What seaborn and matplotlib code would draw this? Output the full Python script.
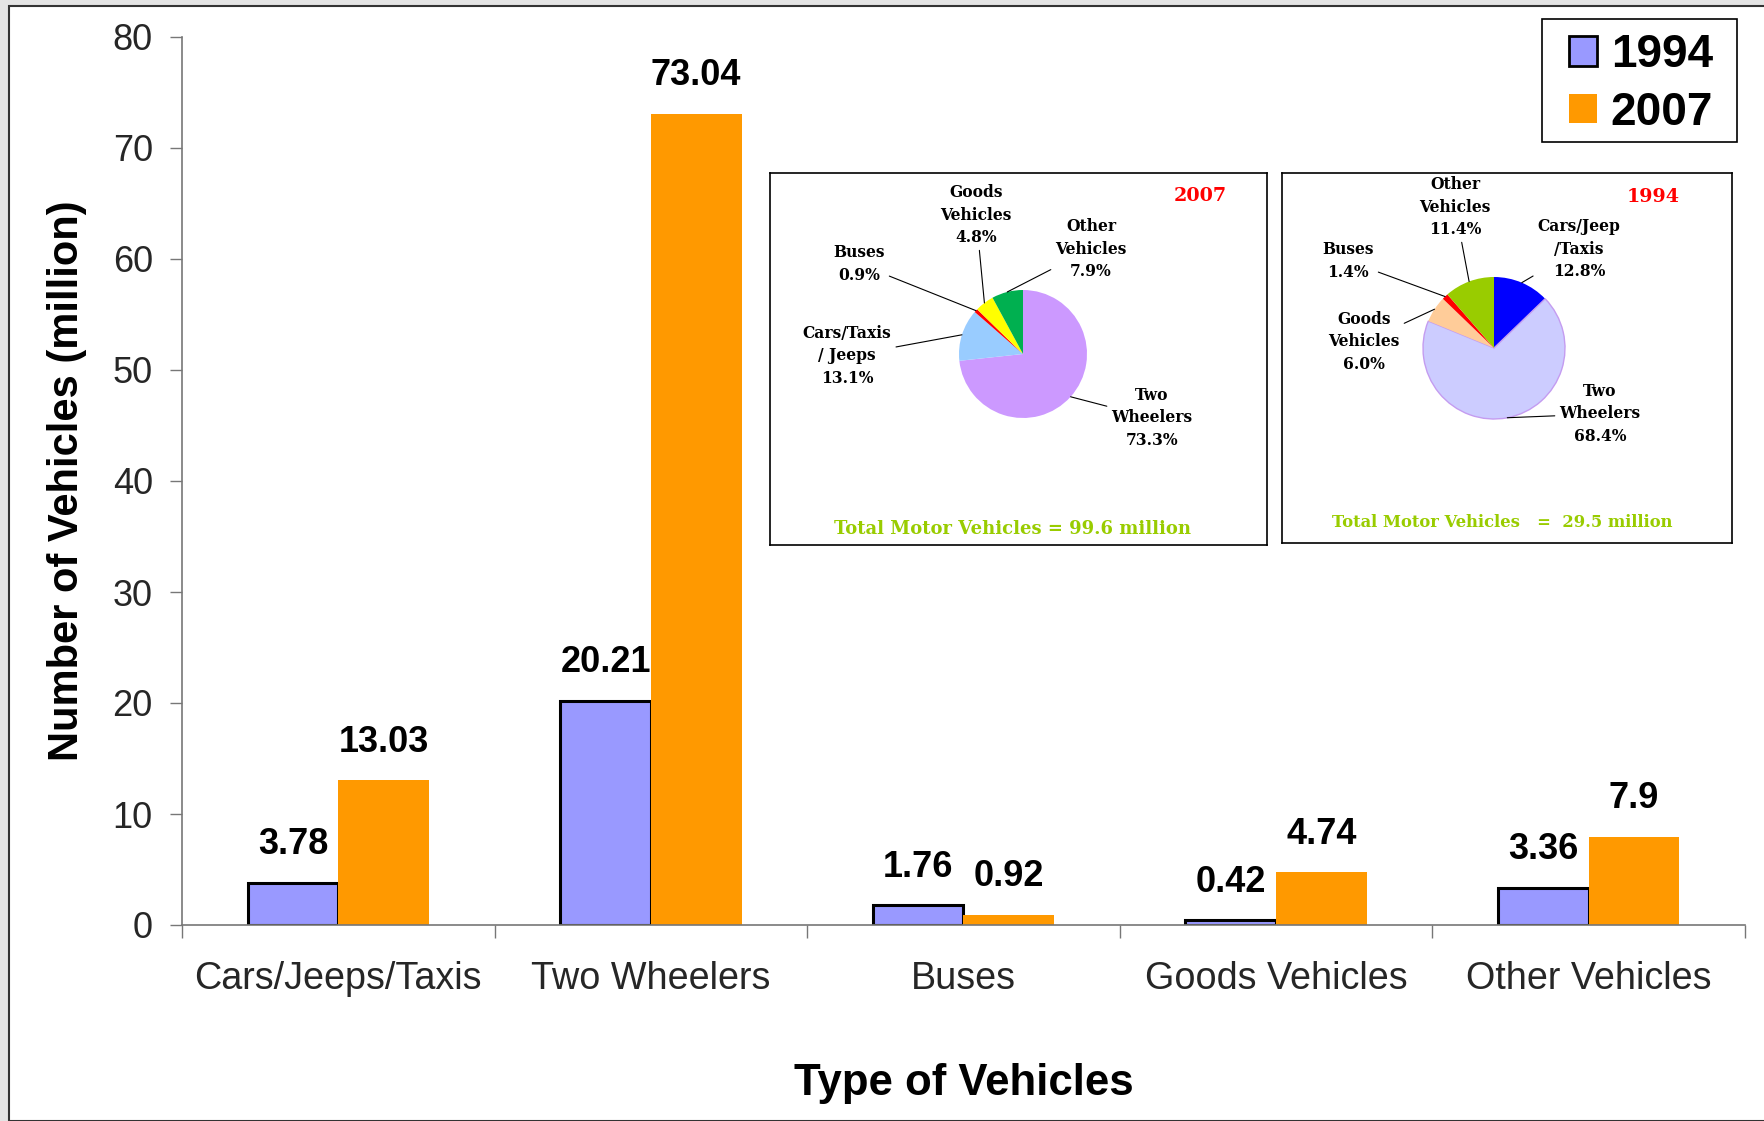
import numpy as np
import pandas as pd
import matplotlib.pyplot as plt
import matplotlib.patches as mpatches
import seaborn as sns

# bar chart data (million vehicles)
categories = ['Cars/Jeeps/Taxis', 'Two Wheelers', 'Buses', 'Goods Vehicles', 'Other Vehicles']
years = ['1994', '2007']
vehicles_1994 = [3.78, 20.21, 1.76, 0.42, 3.36]
vehicles_2007 = [13.03, 73.04, 0.92, 4.74, 7.9]

# inset pies (% share, as printed on the chart)
pie_2007_labels = ['Two\nWheelers', 'Cars/Taxis\n/ Jeeps', 'Buses', 'Goods\nVehicles', 'Other\nVehicles']
pie_2007_share = [73.3, 13.1, 0.9, 4.8, 7.9]
pie_1994_labels = ['Cars/Jeep\n/Taxis', 'Two\nWheelers', 'Goods\nVehicles', 'Buses', 'Other\nVehicles']
pie_1994_share = [12.8, 68.4, 6.0, 1.4, 11.4]
total_2007 = 'Total Motor Vehicles = 99.6 million'
total_1994 = 'Total Motor Vehicles   =  29.5 million'

W, H = 1765, 1121


def fig_box(x0, y0, x1, y1):
    # pixel box (top-down) -> figure fraction rect
    return [x0 / W, 1 - y1 / H, (x1 - x0) / W, (y1 - y0) / H]


sns.set_style('ticks', rc={'text.color': 'black', 'axes.labelcolor': 'black'})
plt.rcParams['font.family'] = ['Liberation Sans', 'DejaVu Sans']

fig = plt.figure(figsize=(W / 100, H / 100), dpi=100, facecolor='#e4e4e4')
fig.patches.append(mpatches.Rectangle((9 / W, 0), 1, 1 - 6 / H, transform=fig.transFigure,
                                      facecolor='white', edgecolor='#333333', lw=1.5, zorder=-10))

ax = fig.add_axes(fig_box(182, 37, 1745, 925))
df = pd.DataFrame({'type': categories * 2,
                   'year': [years[0]] * len(categories) + [years[1]] * len(categories),
                   'count': vehicles_1994 + vehicles_2007})
sns.barplot(df, x='type', y='count', hue='year', palette=['#9999FF', '#FF9900'],
            saturation=1, width=0.58, ax=ax, legend=False)

for bar in ax.containers[0]:
    bar.set_edgecolor('black')
    bar.set_linewidth(2.2)
for bar in ax.containers[1]:
    bar.set_linewidth(0)
for cont in ax.containers:
    ax.bar_label(cont, fmt='{:g}', padding=15, fontsize=26, fontweight='bold')

ax.set_xlim(-0.5, 4.5)
ax.set_ylim(0, 80)
ax.set_yticks(range(0, 81, 10))
ax.set_xticks(np.arange(-0.5, 5, 1), minor=True)
ax.tick_params(axis='y', length=9, width=1, color='#777777', labelsize=26, pad=12)
ax.tick_params(axis='x', which='major', length=0, labelsize=27.2, pad=26)
ax.tick_params(axis='x', which='minor', length=9, width=1, color='#777777')
sns.despine(ax=ax)
for side in ['left', 'bottom']:
    ax.spines[side].set_color('#777777')
    ax.spines[side].set_linewidth(1.2)

ax.set_xlabel('Type of Vehicles', fontsize=31.5, fontweight='bold', va='center')
ax.xaxis.set_label_coords(0.5, -0.178)
ax.set_ylabel('Number of Vehicles (million)', fontsize=30, fontweight='bold', va='center')
ax.yaxis.set_label_coords(-0.0735, 0.5)

# legend: entries without frame, plus a separate box around them
handles = [mpatches.Patch(facecolor='#9999FF', edgecolor='black', lw=2),
           mpatches.Patch(facecolor='#FF9900', edgecolor='none')]
fig.legend(handles, years, loc='upper left', bbox_to_anchor=(1569 / W, 1 - 33 / H),
           frameon=False, prop=dict(weight='bold', size=33), handlelength=0.61,
           handleheight=0.61, handletextpad=0.3, borderpad=0, labelspacing=0.3,
           borderaxespad=0)
fig.patches.append(mpatches.Rectangle((1542 / W, 1 - 142 / H), 195 / W, 123 / H,
                                      transform=fig.transFigure, facecolor='none',
                                      edgecolor='black', lw=1.2, zorder=5))


def draw_pie(box, shares, labels, colors, center, radius, year, total,
             label_pos, year_pos, total_pos, total_size):
    x0, y0, x1, y1 = box
    w, h = x1 - x0, y1 - y0
    pax = fig.add_axes(fig_box(*box))
    cx, cy = center[0], h - center[1]
    wedges, _ = pax.pie(shares, colors=colors, startangle=90, counterclock=False,
                        center=(cx, cy), radius=radius, frame=True,
                        wedgeprops=dict(linewidth=0))
    pax.set_xlim(0, w)
    pax.set_ylim(0, h)
    pax.set_xticks([])
    pax.set_yticks([])
    for sp in pax.spines.values():
        sp.set_visible(True)
        sp.set_color('black')
        sp.set_linewidth(1.2)

    font = dict(family=['DejaVu Serif'], weight='bold')
    for wedge, name, share, pos in zip(wedges, labels, shares, label_pos):
        ang = np.deg2rad((wedge.theta1 + wedge.theta2) / 2)
        tip = (cx + radius * np.cos(ang), cy + radius * np.sin(ang))
        pax.annotate(f'{name}\n{share:.1f}%', xy=tip, xytext=(pos[0], h - pos[1]),
                     ha='center', va='center', multialignment='center', fontsize=11.2,
                     linespacing=1.4, arrowprops=dict(arrowstyle='-', color='black',
                                                      lw=0.8, shrinkA=1, shrinkB=0),
                     **font)
    pax.text(year_pos[0], h - year_pos[1], year, color='#FF0000', fontsize=13.8,
             ha='center', va='center', **font)
    pax.text(total_pos[0], h - total_pos[1], total, color='#99CC00', fontsize=total_size,
             ha='center', va='center', **font)
    return wedges


draw_pie((770, 173, 1267, 545), pie_2007_share, pie_2007_labels,
         ['#CC99FF', '#99CCFF', '#FF0000', '#FFFF00', '#00B050'],
         (253, 181), 64, '2007', total_2007,
         [(382, 245), (77, 183), (89, 91), (206, 42), (321, 76)],
         (430, 23), (243, 356), 13)

w94 = draw_pie((1282, 173, 1732, 543), pie_1994_share, pie_1994_labels,
               ['#0000FF', '#CCCCFF', '#FFCC99', '#FF0000', '#99CC00'],
               (212, 175), 71, '1994', total_1994,
               [(297, 76), (318, 241), (82, 169), (66, 88), (173, 34)],
               (371, 24), (220, 350), 11.8)
w94[1].set_edgecolor('#C49CF0')
w94[1].set_linewidth(1)

fig.savefig('out.png', dpi=100, facecolor=fig.get_facecolor())
